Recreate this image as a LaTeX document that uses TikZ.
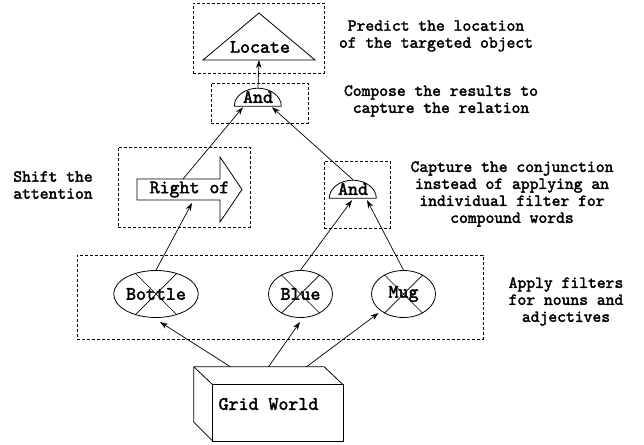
\documentclass[tikz,border=0pt]{standalone}
\usepackage{fontspec}
\newfontfamily\cour{lmmono10-regular.otf}[FakeBold=2.2]
\usetikzlibrary{shapes.geometric,arrows.meta,calc}
\begin{document}
\begin{tikzpicture}[x=1pt,y=-1pt,
  lbl/.style={font=\cour\fontsize{16.8}{17}\selectfont, align=center, inner sep=0},
  txt/.style={font=\cour\fontsize{19}{21}\selectfont, inner sep=0},
  grp/.style={draw, dash pattern=on 3pt off 2pt, line width=0.7pt, minimum width=#1},
  shp/.style={draw, line width=0.8pt},
  conn/.style={line width=0.7pt, -{Stealth[length=8pt,width=5.5pt]}},
  flt/.style={shp, ellipse, minimum width=64pt, minimum height=47pt, txt},
  dome/.style={minimum width=47pt, minimum height=18pt, txt}
]
\useasboundingbox (0,0) rectangle (644,444);

% group boxes
\node[grp=131pt, minimum height=70pt] (g1) at (258.5,38) {};
\node[grp=97pt, minimum height=40pt] (g2) at (259.5,103) {};
\node[grp=132pt, minimum height=80pt] (g3) at (184,187) {};
\node[grp=66pt, minimum height=67pt] (g4) at (357,194.5) {};
\node[grp=406pt, minimum height=84pt] (g5) at (280,297) {};

% Locate triangle
\node[txt] (loc) at (260,47) {Locate};
\draw[shp] ($(loc)+(-1,-34)$) -- ($(loc)+(-57,13)$) -- ($(loc)+(55,13)$) -- cycle;

% And domes
\node[dome] (atop) at (258,97) {And};
\draw[shp] (atop.south east) -- (atop.south west) arc[start angle=180, end angle=360, x radius=23.5, y radius=18] -- cycle;
\node[dome] (amid) at (353,189) {And};
\draw[shp] (amid.south east) -- (amid.south west) arc[start angle=180, end angle=360, x radius=23.5, y radius=18] -- cycle;

% Right of arrow
\node[txt, minimum width=105pt, minimum height=65pt] (ro) at (189.5,189.5) {Right of};
\draw[shp] ($(ro)+(-52.5,-10.5)$) -- ($(ro)+(30.5,-10.5)$) -- ($(ro)+(30.5,-32.5)$)
  -- ($(ro)+(52.5,0)$) -- ($(ro)+(30.5,32.5)$) -- ($(ro)+(30.5,10.5)$)
  -- ($(ro)+(-52.5,10.5)$) -- cycle;

% filters
\node[flt] (bottle) at (156,294) {Bottle};
\node[flt] (blue) at (300.5,294) {Blue};
\node[flt] (mug) at (403.5,294) {Mug};
\foreach \n in {bottle,blue,mug}{
  \draw[line width=0.7pt] (\n.45) -- (\n.225);
  \draw[line width=0.7pt] (\n.135) -- (\n.315);
}

% Grid World cuboid
\node[txt, minimum width=149pt, minimum height=74pt] (gw) at (268.5,404) {Grid World};
\draw[shp] ($(gw.north west)+(19,18)$) rectangle (gw.south east);
\draw[shp] (gw.north west) -- ($(gw.north east)+(-19,0)$) -- ($(gw.north east)+(0,18)$);
\draw[shp] (gw.north west) -- ($(gw.south west)+(0,-19)$) -- ($(gw.south west)+(19,0)$);
\draw[shp] (gw.north west) -- ($(gw.north west)+(19,18)$);

% connectors
\draw[conn] ($(gw.north)+(-38,0)$) -- ($(bottle)+(4,28)$);
\draw[conn] (gw.north) -- ($(blue)+(-0.5,28)$);
\draw[conn] ($(gw.north)+(38,0)$) -- ($(mug)+(-25,19)$);
\draw[conn] (bottle.north) -- ($(ro)+(2.5,13.5)$);
\draw[conn] (blue.north) -- ($(amid.south)+(-1,2)$);
\draw[conn] (mug.north) -- ($(amid.south)+(14,2)$);
\draw[conn] ($(ro)+(-6.5,-10.5)$) -- ($(atop.south)+(-15,1)$);
\draw[conn] (amid.north) -- ($(atop.south)+(14,1)$);
\draw[conn] (atop.north) -- ($(loc)+(-1,13)$);

% labels
\node[lbl] (l1) at (436,36) {Predict the location\\of the targeted object};
\node[lbl] (l2) at (441,101) {Compose the results to\\capture the relation};
\node[lbl] (l3) at (512,194) {Capture the conjunction\\instead of applying an\\individual filter for\\compound words};
\node[lbl, align=left] (l4) at (53,185) {Shift the\\attention};
\node[lbl] (l5) at (566,301.5) {Apply filters\\for nouns and\\adjectives};
\end{tikzpicture}
\end{document}
